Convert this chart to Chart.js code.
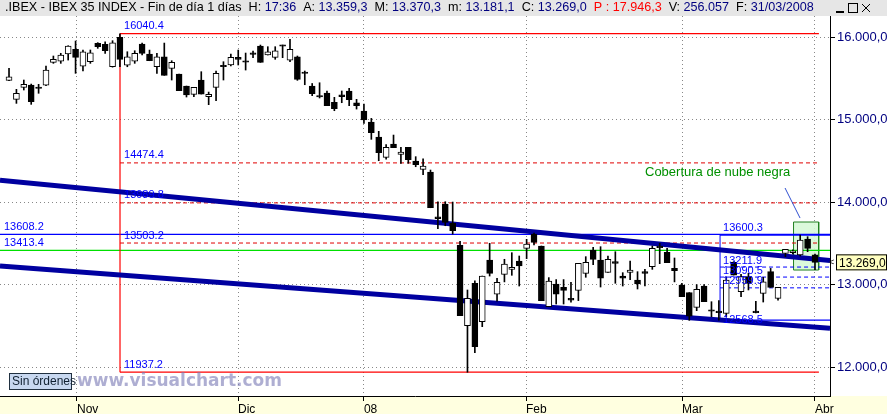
<!DOCTYPE html>
<html><head><meta charset="utf-8">
<script src="https://cdn.jsdelivr.net/npm/chart.js@4"></script>
<style>html,body{margin:0;padding:0;background:#fff}#w{width:887px;height:414px}</style>
</head><body><div id="w"><canvas id="c"></canvas></div>
<script>
const opens=[15475,15245,15390,15418,15390,15418,15693,15709,15794,15851,15648,15701,15924,15912,15640,15996,15660,15709,15915,15794,15640,15761,15620,15552,15406,15305,15479,15277,15390,15657,15661,15754,15709,15810,15891,15782,15754,15903,15721,15761,15572,15406,15289,15321,15209,15301,15346,15204,15103,14970,14788,14542,14703,14578,14663,14497,14396,14364,13822,13976,13742,13475,12501,13015,12549,13297,12882,13124,13184,13285,13439,13612,13467,12731,13007,12966,12833,12930,13136,13418,13297,13148,13277,13103,13148,13055,13156,13217,13467,13390,13196,12994,12902,12724,12982,12691,12679,12651,13270,12914,13096,12679,12893,13156,12833,13378,13386,13358,13552,13359];
const highs=[15620,15366,15479,15430,15427,15648,15770,15803,15895,15952,15843,15843,15932,15943,15956,16040,15822,15834,15927,15842,15802,15927,15713,15552,15406,15390,15580,15333,15588,15701,15794,15842,15806,15830,15903,15883,15883,15903,15972,15770,15588,15437,15446,15346,15269,15346,15378,15245,15188,15014,14857,14695,14812,14663,14663,14550,14525,14388,14004,14004,14000,13524,12934,13044,13103,13500,13076,13306,13386,13346,13548,13624,13467,13084,13060,13060,13027,13257,13338,13451,13459,13346,13398,13144,13285,13156,13184,13467,13500,13439,13322,13015,12902,12999,12999,12792,12805,13088,13277,13124,13136,12797,13088,13196,12966,13427,13420,13600,13580,13370];
const lows=[15470,15196,15358,15184,15318,15410,15681,15681,15721,15560,15588,15681,15863,15802,15635,15640,15640,15681,15782,15713,15560,15536,15479,15349,15273,15277,15309,15180,15229,15479,15649,15661,15600,15750,15693,15782,15730,15750,15701,15475,15422,15289,15261,15167,15107,15204,15167,15127,14954,14760,14501,14521,14659,14469,14469,14428,14331,13931,13676,13713,13612,12622,11937,12173,12489,13103,12797,13032,13112,12982,13314,13479,12805,12731,12764,12764,12785,12805,13088,13241,12970,13148,13015,12982,13060,12946,12982,13184,13253,13265,13032,12852,12566,12683,12792,12610,12568,12610,13115,12853,12934,12655,12788,12966,12810,13338,13370,13346,13398,13181];
const closes=[15519,15318,15427,15216,15378,15600,15730,15782,15891,15754,15822,15810,15883,15834,15931,15730,15761,15802,15802,15713,15761,15536,15693,15349,15297,15390,15309,15305,15560,15640,15754,15730,15697,15790,15693,15822,15834,15891,15851,15487,15560,15313,15277,15167,15131,15277,15240,15167,14994,14840,14598,14663,14659,14606,14513,14452,14436,13931,13798,13754,13652,12622,12833,12246,13103,13136,13027,13249,13208,13225,13491,13512,12805,13043,12882,12930,12812,13257,13270,13306,13076,13306,13257,13076,13176,13007,13136,13439,13447,13265,13168,12852,12618,12942,12792,12679,12659,13055,13115,13096,13015,12659,13034,12966,12966,13427,13410,13540,13439,13269];
const monthTicks=[9.19,30.97,48.0,69.92,91.02,109.0];
const monthLabels=["Nov","Dic","08","Feb","Mar","Abr"];
const yTicks=[12000,13000,14000,15000,16000];
const upperChannel=[{x:-1.22,y:14264},{x:111.03,y:13291}];
const lowerChannel=[{x:-1.22,y:13224},{x:111.03,y:12471}];
const levelStart=15.01, fiboStart=96.16, xMin=-1.22, xMax=111.03;
const redLevels=[16040.4,11937.2];
const redDashed=[14474.4,13989.8,13503.2];
const blueFull=13608.2, greenFull=13413.4;
const blueTop=13600.3, blueBottom=12568.5;
const blueDashed=[13211.9,13090.5,12959.9];
const boxX=[106.1,109.5], boxY=[13176,13758];
const pointer=[{x:104.95,y:14170},{x:106.98,y:13806}];

const idx=opens.map((_,i)=>i);
const wick=idx.map(i=>({x:i,y:[lows[i],highs[i]]}));
const body=idx.map(i=>{let a=Math.min(opens[i],closes[i]),b=Math.max(opens[i],closes[i]);if(b-a<15){const m=(a+b)/2;a=m-8;b=m+8;}return {x:i,y:[a,b]};});
const bodyCol=idx.map(i=>closes[i]>=opens[i]?'#ffffff':'#000000');
const hl=(y,x0,x1)=>[{x:x0,y},{x:x1,y}];
const L=(data,color,w,dash,order)=>({type:'line',data,borderColor:color,borderWidth:w,borderDash:dash||[],pointRadius:0,fill:false,order:order||5,tension:0});
const datasets=[
 {type:'line',data:[{x:boxX[0],y:boxY[1]},{x:boxX[1],y:boxY[1]},{x:boxX[1],y:boxY[0]},{x:boxX[0],y:boxY[0]},{x:boxX[0],y:boxY[1]}],borderColor:'#208020',borderWidth:1,backgroundColor:'rgba(215,248,215,0.9)',fill:'shape',pointRadius:0,order:20},
 ...redLevels.map(v=>L(hl(v,levelStart,xMax-1.5),'#ff0000',1.2,null,6)),
 L([{x:levelStart,y:redLevels[1]},{x:levelStart,y:redLevels[0]}],'#ff0000',1.2,null,6),
 ...redDashed.map(v=>L(hl(v,levelStart,xMax-1.5),'#e00000',1,[4,3],6)),
 L(hl(blueFull,xMin,xMax),'#0000ff',1.3,null,6),
 L(hl(greenFull,xMin,xMax),'#00e000',1.3,null,6),
 L(hl(blueTop,fiboStart,xMax),'#0000ff',1.3,null,6),
 L(hl(blueBottom,fiboStart,xMax),'#0000ff',1.3,null,6),
 L([{x:fiboStart,y:blueBottom},{x:fiboStart,y:blueTop}],'#0000ff',1,null,6),
 ...blueDashed.map(v=>L(hl(v,fiboStart,xMax),'#0000ff',1,[4,3],6)),
 L(upperChannel,'#0000a0',5,null,4),
 L(lowerChannel,'#0000a0',5,null,4),
 L(pointer,'#3050d0',1,null,4),
 {type:'bar',data:wick,backgroundColor:'#000',barThickness:1,grouped:false,order:3},
 {type:'bar',data:body,backgroundColor:bodyCol,borderColor:'#000',borderWidth:1,borderSkipped:false,barThickness:6,grouped:false,order:2}
];
const texts={
 id:'texts',
 beforeDraw(ch){const c=ch.ctx;c.save();c.fillStyle='#ffffe0';c.fillRect(0,396,887,18);c.fillStyle='#e6e6e6';c.fillRect(0,0,887,16);c.restore();},
 afterDraw(ch){
  const c=ch.ctx,x=ch.scales.x,y=ch.scales.y;c.save();
  c.font='12.6px "Liberation Sans", Arial';c.textBaseline='middle';
  let px=5;const parts=[['.IBEX - IBEX 35 INDEX - Fin de día 1 días  H: ','#000'],['17:36','#000080'],['  A: ','#000'],['13.359,3','#000080'],['  M: ','#000'],['13.370,3','#000080'],['  m: ','#000'],['13.181,1','#000080'],['  C: ','#000'],['13.269,0','#000080'],['  P : 17.946,3','#ff0000'],['  V: ','#000'],['256.057','#000080'],['  F: ','#000'],['31/03/2008','#000080']];
  for(const [t,col] of parts){c.fillStyle=col;c.fillText(t,px,8);px+=c.measureText(t).width;}
  c.strokeStyle='#000';c.fillStyle='#000';c.lineWidth=1;c.strokeRect(848.5,3.5,9,9);c.fillRect(836,11,8,2);c.beginPath();c.moveTo(862,4);c.lineTo(870,12);c.moveTo(870,4);c.lineTo(862,12);c.stroke();
  c.font='11px "Liberation Sans", Arial';c.fillStyle='#0000ff';c.textBaseline='bottom';
  const lx=x.getPixelForValue(levelStart)+4, fx=x.getPixelForValue(fiboStart)+3;
  c.fillText(redLevels[0].toFixed(1),lx,y.getPixelForValue(redLevels[0])-2);
  c.fillText(redLevels[1].toFixed(1),lx,y.getPixelForValue(redLevels[1])-2);
  redDashed.forEach(v=>c.fillText(v.toFixed(1),lx,y.getPixelForValue(v)-2));
  c.fillText(blueFull.toFixed(1),4,y.getPixelForValue(blueFull)-2);
  c.fillText(greenFull.toFixed(1),4,y.getPixelForValue(greenFull)-2);
  c.fillText(blueTop.toFixed(1),fx,y.getPixelForValue(blueTop)-2);
  blueDashed.forEach(v=>c.fillText(v.toFixed(1),fx,y.getPixelForValue(v)-1));
  c.fillText(blueBottom.toFixed(1),fx,y.getPixelForValue(blueBottom)+5);
  c.font='13px "Liberation Sans", Arial';c.fillStyle='#009000';c.textBaseline='middle';
  c.fillText('Cobertura de nube negra',645,172);
  const py=y.getPixelForValue(closes[closes.length-1]);
  c.fillStyle='#ffffc0';c.fillRect(836,py-8,51,16);c.strokeStyle='#000';c.strokeRect(836.5,py-7.5,50,15);
  c.fillStyle='#000';c.font='12px "Liberation Sans", Arial';c.fillText('13.269,0',839,py+1);
  c.font='9px "Liberation Sans"';c.fillText('<',829,py);
  c.fillStyle='#c8d8f0';c.fillRect(9,373,63,17);c.strokeStyle='#203040';c.strokeRect(9.5,373.5,62,16);
  c.fillStyle='#102030';c.font='12px "Liberation Sans", Arial';c.fillText('Sin órdenes',12,382);
  c.fillStyle='rgba(120,120,180,0.6)';c.font='bold 17px "DejaVu Sans", Verdana';c.fillText('www.visualchart.com',77,382);
  c.restore();}
};
new Chart(document.getElementById('c'),{
 data:{datasets},
 options:{responsive:true,maintainAspectRatio:false,animation:false,
  layout:{padding:{top:16,left:0,right:0,bottom:0}},
  plugins:{legend:{display:false},tooltip:{enabled:false}},
  scales:{
   x:{type:'linear',offset:false,min:xMin,max:xMax,afterFit(s){s.height=18;s.paddingLeft=0;s.paddingRight=0;},
      afterBuildTicks(s){s.ticks=monthTicks.map(v=>({value:v}));},
      ticks:{autoSkip:false,align:'start',maxRotation:0,padding:1,color:'#000',font:{family:'"Liberation Sans", Arial',size:12},callback:(v,i)=>monthLabels[i]},
      grid:{offset:false,color:'#888',lineWidth:1,tickLength:5,tickColor:'#000'},
      border:{color:'#000',dash:[1,3]}},
   y:{position:'right',min:11649,max:16255,afterFit(s){s.width=57;},
      afterBuildTicks(s){s.ticks=yTicks.map(v=>({value:v}));},
      ticks:{color:'#000080',padding:2,font:{family:'"Liberation Sans", Arial',size:13},callback:v=>v.toLocaleString('de-DE',{minimumFractionDigits:1})},
      grid:{color:'#888',tickLength:5,tickColor:'#000'},
      border:{color:'#000',dash:[1,3]}}
  }},
 plugins:[texts]
});
</script></body></html>
